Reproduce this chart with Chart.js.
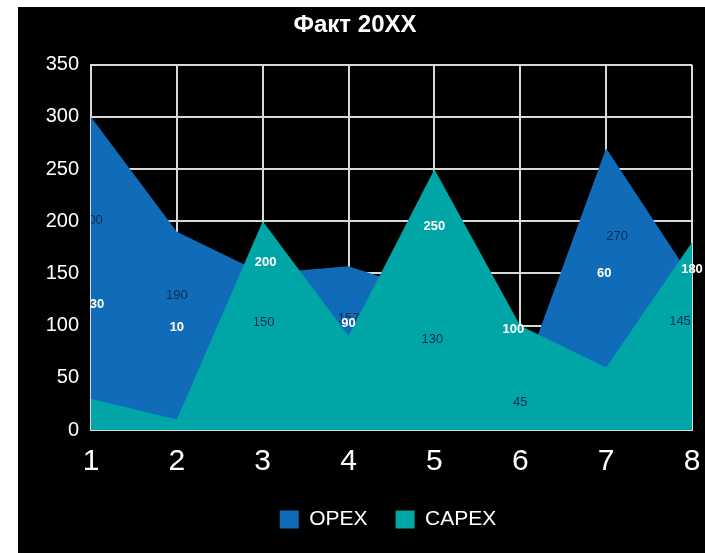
<!DOCTYPE html>
<html>
<head>
<meta charset="utf-8">
<script src="https://cdn.jsdelivr.net/npm/chart.js@4.4.1/dist/chart.umd.min.js"></script>
<style>
  html, body { margin: 0; padding: 0; background: #ffffff; width: 705px; height: 553px; overflow: hidden; }
  #wrap { position: absolute; left: 18px; top: 7px; width: 687px; height: 546px; background: #000000; }
  canvas { display: block; }
</style>
</head>
<body>
<div id="wrap"><canvas id="c" width="687" height="546"></canvas></div>
<script>
const categories = ['1', '2', '3', '4', '5', '6', '7', '8'];
const opexValues = [300, 190, 150, 157, 130, 45, 270, 145];
const capexValues = [30, 10, 200, 90, 250, 100, 60, 180];
const yTicks = [0, 50, 100, 150, 200, 250, 300, 350];

const FONT = "'Liberation Sans', Arial, sans-serif";

// label placement (in value units along y, pixel nudges along x)
const labelLayout = {
  opex:  { y: [201, 129, 103, 107, 87, 26, 186, 104], dx: [1, 0, 1, 0, -2, 0, 11, -12], color: '#0c2d4f', weight: 'normal' },
  capex: { y: [120, 98, 161, 102, 195, 96, 150, 154], dx: [6, 0, 3, 0, 0, -7, -2, 0], color: '#ffffff', weight: 'bold' }
};

const bgPlugin = {
  id: 'bg',
  beforeDraw(chart) {
    const ctx = chart.ctx;
    ctx.save();
    ctx.fillStyle = '#000000';
    ctx.fillRect(0, 0, chart.width, chart.height);
    ctx.restore();
  }
};

const legendShift = {
  id: 'legendShift',
  afterLayout(chart) {
    const lg = chart.legend;
    if (lg) {
      lg.left += 33;
      lg.right += 33;
      lg.top -= 13;
      lg.bottom -= 13;
    }
  }
};

const labelPlugin = {
  id: 'valueLabels',
  afterDatasetsDraw(chart) {
    const ctx = chart.ctx;
    const xs = chart.scales.x, ys = chart.scales.y;
    const area = chart.chartArea;
    ctx.save();
    ctx.beginPath();
    ctx.rect(area.left, 0, chart.width - area.left, chart.height);
    ctx.clip();
    ctx.textAlign = 'center';
    ctx.textBaseline = 'middle';
    [['opex', opexValues], ['capex', capexValues]].forEach(([key, vals]) => {
      const L = labelLayout[key];
      ctx.fillStyle = L.color;
      ctx.font = L.weight + ' 13px ' + FONT;
      vals.forEach((v, i) => {
        const x = xs.getPixelForValue(i) + L.dx[i];
        const y = ys.getPixelForValue(L.y[i]);
        ctx.fillText(String(v), x, y);
      });
    });
    ctx.restore();
  }
};

new Chart(document.getElementById('c'), {
  type: 'line',
  data: {
    labels: categories,
    datasets: [
      {
        label: 'OPEX',
        data: opexValues,
        backgroundColor: '#106cb9',
        borderColor: '#106cb9',
        borderWidth: 0,
        pointRadius: 0,
        fill: 'origin',
        tension: 0,
        order: 2
      },
      {
        label: 'CAPEX',
        data: capexValues,
        backgroundColor: '#00a5a5',
        borderColor: '#00a5a5',
        borderWidth: 0,
        pointRadius: 0,
        fill: 'origin',
        tension: 0,
        order: 1
      }
    ]
  },
  options: {
    responsive: false,
    animation: false,
    layout: { padding: { left: 0, right: 13, top: 0, bottom: 0 } },
    plugins: {
      title: {
        display: true,
        text: 'Факт 20XX',
        color: '#ffffff',
        font: { family: FONT, size: 24, weight: 'bold' },
        padding: { top: 4, bottom: 25 }
      },
      legend: {
        position: 'bottom',
        labels: {
          color: '#ffffff',
          font: { family: FONT, size: 21 },
          boxWidth: 19,
          boxHeight: 18,
          padding: 28,
          sort: (a, b) => a.datasetIndex - b.datasetIndex
        }
      },
      tooltip: { enabled: false }
    },
    scales: {
      x: {
        offset: false,
        grid: { color: '#d9d9d9', lineWidth: 2, drawTicks: false },
        border: { color: '#d9d9d9', width: 2 },
        afterFit(scale) { scale.paddingLeft = 0; scale.paddingRight = 0; },
        ticks: { color: '#ffffff', font: { family: FONT, size: 30, lineHeight: 1.0 }, padding: 17, maxRotation: 0 }
      },
      y: {
        min: 0,
        max: 350,
        grid: { color: '#d9d9d9', lineWidth: 2, drawTicks: false },
        border: { color: '#d9d9d9', width: 2 },
        afterBuildTicks(scale) { scale.ticks = yTicks.map(v => ({ value: v })); },
        afterFit(scale) { scale.width = 73; },
        ticks: { color: '#ffffff', font: { family: FONT, size: 20 }, padding: 12 }
      }
    }
  },
  plugins: [bgPlugin, legendShift, labelPlugin]
});
</script>
</body>
</html>
